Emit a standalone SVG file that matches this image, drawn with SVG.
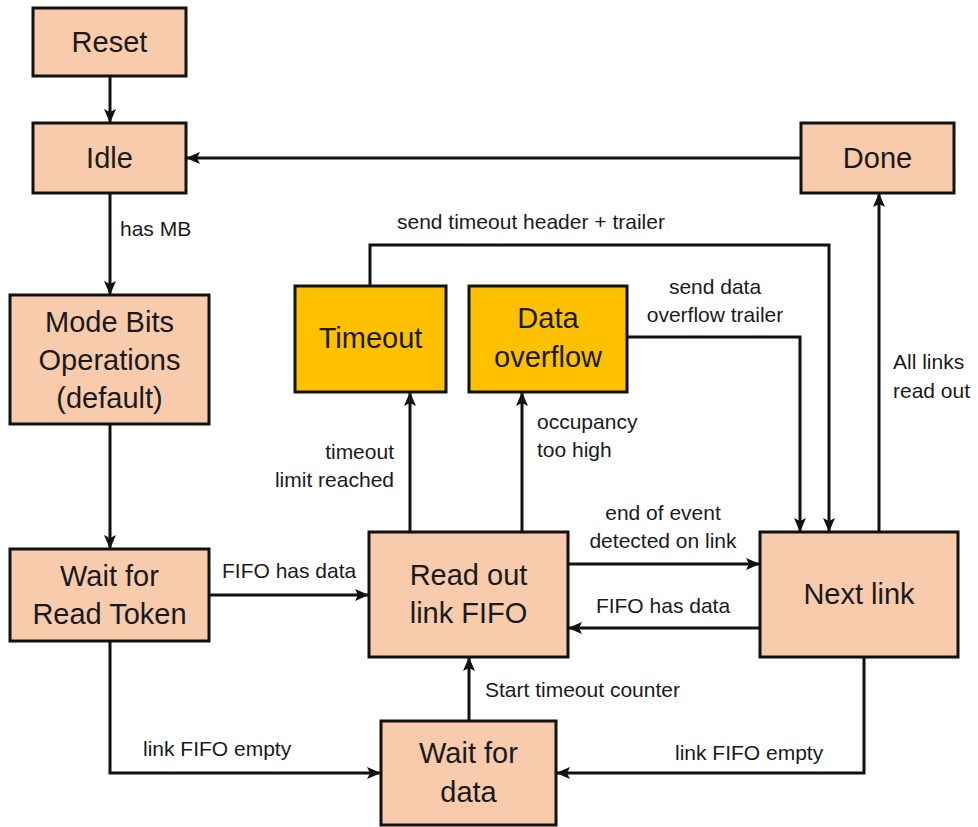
<svg xmlns="http://www.w3.org/2000/svg" width="978" height="827" viewBox="0 0 978 827">
  <style>
    .state rect { fill: #F8CBAD; stroke: #111; stroke-width: 3; }
    .alert rect { fill: #FFC000; stroke: #111; stroke-width: 3; }
    .state text, .alert text { font-family: "Liberation Sans", Arial, sans-serif; font-size: 29px; fill: #1a1a1a; text-anchor: middle; }
    .edge { fill: none; stroke: #111; stroke-width: 3; marker-end: url(#arrow); }
    .lbl { font-family: "Liberation Sans", Arial, sans-serif; font-size: 21px; fill: #1a1a1a; }
    .mid { text-anchor: middle; }
    .end { text-anchor: end; }
  </style>
  <defs>
    <marker id="arrow" markerUnits="userSpaceOnUse" markerWidth="14" markerHeight="12" viewBox="0 0 14 12" refX="13" refY="6" orient="auto">
      <path d="M0,0 L14,6 L0,12 L3,6 Z" fill="#111"/>
    </marker>
  </defs>
  <rect width="978" height="827" fill="#fff"/>

  <!-- transitions -->
  <g id="connectors">
    <line class="edge" x1="110" y1="76" x2="110" y2="122"/>
    <line class="edge" x1="801" y1="158" x2="187" y2="158"/>
    <line class="edge" x1="110" y1="193" x2="110" y2="294"/>
    <text class="lbl" x="120" y="236">has MB</text>
    <line class="edge" x1="110" y1="424" x2="110" y2="548"/>
    <line class="edge" x1="209" y1="595" x2="368" y2="595"/>
    <text class="lbl" x="222" y="578">FIFO has data</text>
    <polyline class="edge" points="110,641 110,773 380,773"/>
    <text class="lbl" x="143" y="756">link FIFO empty</text>
    <line class="edge" x1="469" y1="721" x2="469" y2="658"/>
    <text class="lbl" x="485" y="697">Start timeout counter</text>
    <polyline class="edge" points="864,657 864,773 557,773"/>
    <text class="lbl" x="675" y="760">link FIFO empty</text>
    <line class="edge" x1="568" y1="564" x2="759" y2="564"/>
    <text class="lbl mid" x="663" y="520">end of event</text>
    <text class="lbl mid" x="663" y="548">detected on link</text>
    <line class="edge" x1="760" y1="628" x2="569" y2="628"/>
    <text class="lbl mid" x="663" y="613">FIFO has data</text>
    <line class="edge" x1="410" y1="532" x2="410" y2="393"/>
    <text class="lbl end" x="394" y="459">timeout</text>
    <text class="lbl end" x="394" y="487">limit reached</text>
    <line class="edge" x1="522" y1="532" x2="522" y2="393"/>
    <text class="lbl" x="537" y="429">occupancy</text>
    <text class="lbl" x="537" y="457">too high</text>
    <polyline class="edge" points="370,286 370,245 829,245 829,531"/>
    <text class="lbl" x="397" y="229">send timeout header + trailer</text>
    <polyline class="edge" points="627,337 800,337 800,531"/>
    <text class="lbl mid" x="715" y="294">send data</text>
    <text class="lbl mid" x="715" y="322">overflow trailer</text>
    <line class="edge" x1="879" y1="532" x2="879" y2="194"/>
    <text class="lbl" x="893" y="369">All links</text>
    <text class="lbl" x="893" y="398">read out</text>
  </g>

  <!-- states -->
  <g id="reset" class="state">
    <rect x="33" y="8" width="153" height="68"/>
    <text x="109.5" y="52">Reset</text>
  </g>
  <g id="idle" class="state">
    <rect x="33" y="123" width="153" height="70"/>
    <text x="109.5" y="168">Idle</text>
  </g>
  <g id="done" class="state">
    <rect x="801" y="123" width="153" height="70"/>
    <text x="877.5" y="168">Done</text>
  </g>
  <g id="mode-bits" class="state">
    <rect x="10" y="295" width="199" height="129"/>
    <text x="109.5" y="332">Mode Bits</text>
    <text x="109.5" y="370">Operations</text>
    <text x="109.5" y="408">(default)</text>
  </g>
  <g id="wait-token" class="state">
    <rect x="10" y="549" width="199" height="92"/>
    <text x="109.5" y="586">Wait for</text>
    <text x="109.5" y="624">Read Token</text>
  </g>
  <g id="timeout" class="alert">
    <rect x="295" y="286" width="151" height="106"/>
    <text x="370.5" y="348">Timeout</text>
  </g>
  <g id="data-overflow" class="alert">
    <rect x="469" y="286" width="158" height="106"/>
    <text x="548" y="328">Data</text>
    <text x="548" y="367">overflow</text>
  </g>
  <g id="read-out" class="state">
    <rect x="369" y="532" width="199" height="125"/>
    <text x="468.5" y="585">Read out</text>
    <text x="468.5" y="623">link FIFO</text>
  </g>
  <g id="next-link" class="state">
    <rect x="760" y="532" width="198" height="125"/>
    <text x="859" y="604">Next link</text>
  </g>
  <g id="wait-data" class="state">
    <rect x="381" y="721" width="175" height="104"/>
    <text x="468.5" y="763">Wait for</text>
    <text x="468.5" y="802">data</text>
  </g>
</svg>
